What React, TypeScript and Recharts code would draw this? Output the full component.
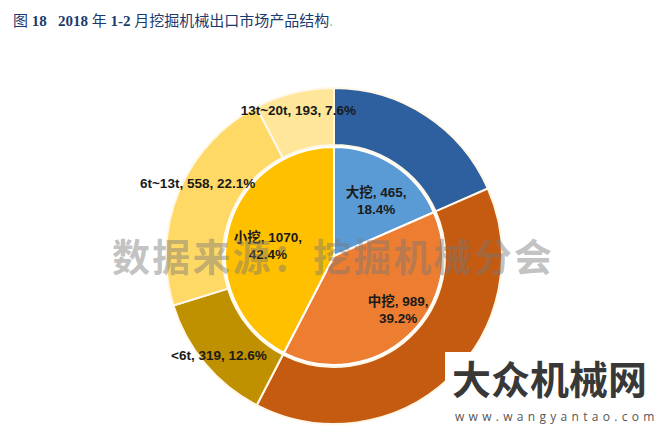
import { PieChart, Pie, Cell } from 'recharts';

// inner ring: 大挖 / 中挖 / 小挖
const innerNames = ['大挖', '中挖', '小挖'];
const innerValues = [465, 989, 1070];
const innerPercents = ['18.4%', '39.2%', '42.4%'];

// outer ring: 小挖 split by tonnage
const outerNames = ['大挖', '中挖', '<6t', '6t~13t', '13t~20t'];
const outerValues = [465, 989, 319, 558, 193];
const outerPercents = ['18.4%', '39.2%', '12.6%', '22.1%', '7.6%'];
const outerLabelled = [false, false, true, true, true];

const innerData = innerNames.map((name, i) => ({ name, value: innerValues[i], pct: innerPercents[i] }));
const outerData = outerNames.map((name, i) => ({
  name,
  value: outerValues[i],
  pct: outerPercents[i],
  show: outerLabelled[i],
}));

const INNER_COLORS = ['#5B9BD5', '#ED7D31', '#FFC000'];
const OUTER_COLORS = ['#2E5F9E', '#C55A11', '#BF9000', '#FFD966', '#FFE699'];

// label placement tweaks (radius from centre, pixel nudges)
const INNER_POS: Record<string, { r: number; dx: number; dy: number }> = {
  大挖: { r: 66, dx: 6, dy: 0 },
  中挖: { r: 82, dx: 8, dy: -6 },
  小挖: { r: 68, dx: 0, dy: 6 },
};
const OUTER_POS: Record<string, { r: number; dx: number; dy: number }> = {
  '<6t': { r: 150, dx: 0, dy: 3 },
  '6t~13t': { r: 150, dx: 2, dy: -15 },
  '13t~20t': { r: 150, dx: 0, dy: 0 },
};

const RAD = Math.PI / 180;
const LABEL_FONT = '"Liberation Sans", Arial, "Noto Sans CJK SC", sans-serif';

function innerLabel(props: any) {
  const { cx, cy, midAngle, index } = props;
  const d = innerData[index];
  const p = INNER_POS[d.name];
  const x = cx + p.r * Math.cos(-midAngle * RAD) + p.dx;
  const y = cy + p.r * Math.sin(-midAngle * RAD) + p.dy;
  return (
    <text x={x} y={y} textAnchor="middle" fill="#1a1a1a" fontSize={13.5} fontWeight="bold" fontFamily={LABEL_FONT}>
      <tspan x={x} dy={-4}>{`${d.name}, ${d.value},`}</tspan>
      <tspan x={x} dy={17}>{d.pct}</tspan>
    </text>
  );
}

function outerLabel(props: any) {
  const { cx, cy, midAngle, index } = props;
  const d = outerData[index];
  if (!d.show) return null;
  const p = OUTER_POS[d.name];
  const x = cx + p.r * Math.cos(-midAngle * RAD) + p.dx;
  const y = cy + p.r * Math.sin(-midAngle * RAD) + p.dy;
  return (
    <text x={x} y={y} dy={5} textAnchor="middle" fill="#1a1a1a" fontSize={13.5} fontWeight="bold" fontFamily={LABEL_FONT}>
      {`${d.name}, ${d.value}, ${d.pct}`}
    </text>
  );
}

export default function App() {
  return (
    <div style={{ position: 'absolute', left: 0, top: 0, width: 660, height: 433, background: '#fff', overflow: 'hidden' }}>
      <div
        style={{
          position: 'absolute',
          left: 13,
          top: 12,
          fontSize: 15,
          color: '#1B3A6E',
          fontFamily: '"Liberation Serif", "Noto Sans CJK SC", serif',
          whiteSpace: 'pre',
          lineHeight: '18px',
        }}
      >
        图 <b>18</b>{'   '}<b>2018</b> 年 <b>1-2</b> 月挖掘机械出口市场产品结构<span style={{ color: '#aaa' }}>.</span>
      </div>

      <PieChart width={660} height={433} margin={{ top: 0, right: 0, bottom: 0, left: 0 }}>
        <Pie
          data={innerData}
          dataKey="value"
          nameKey="name"
          cx={334}
          cy={256}
          outerRadius={109}
          startAngle={90}
          endAngle={-270}
          stroke="#fff"
          strokeWidth={2}
          label={innerLabel}
          labelLine={false}
          isAnimationActive={false}
        >
          {innerData.map((d, i) => (
            <Cell key={d.name} fill={INNER_COLORS[i]} />
          ))}
        </Pie>
        <Pie
          data={outerData}
          dataKey="value"
          nameKey="name"
          cx={334}
          cy={256}
          innerRadius={111}
          outerRadius={168}
          startAngle={90}
          endAngle={-270}
          stroke="#FFF8E8"
          strokeWidth={2}
          label={outerLabel}
          labelLine={false}
          isAnimationActive={false}
        >
          {outerData.map((d, i) => (
            <Cell key={d.name} fill={OUTER_COLORS[i]} />
          ))}
        </Pie>
      </PieChart>

      {/* source watermark */}
      <div
        style={{
          position: 'absolute',
          left: 112,
          top: 233,
          fontSize: 38,
          fontWeight: 'bold',
          color: 'rgba(120,120,120,0.45)',
          fontFamily: '"Noto Sans CJK SC", sans-serif',
          lineHeight: '44px',
          whiteSpace: 'nowrap',
          letterSpacing: 2.2,
        }}
      >
        数据来源：挖掘机械分会
      </div>

      {/* site logo */}
      <div style={{ position: 'absolute', left: 445, top: 352, width: 215, height: 81, background: '#fff' }}>
        <div
          style={{
            position: 'absolute',
            left: 7,
            top: 5,
            fontSize: 39,
            color: '#383838',
            fontFamily: '"Noto Sans CJK SC", sans-serif',
            fontWeight: 'bold',
            lineHeight: '40px',
            whiteSpace: 'nowrap',
          }}
        >
          大众机械网
        </div>
        <div
          style={{
            position: 'absolute',
            left: 10,
            top: 58,
            fontSize: 12,
            lineHeight: '14px',
            color: '#555',
            fontFamily: '"Open Sans", sans-serif',
            letterSpacing: 4.3,
            whiteSpace: 'nowrap',
          }}
        >
          www.wangyantao.com
        </div>
      </div>
    </div>
  );
}
